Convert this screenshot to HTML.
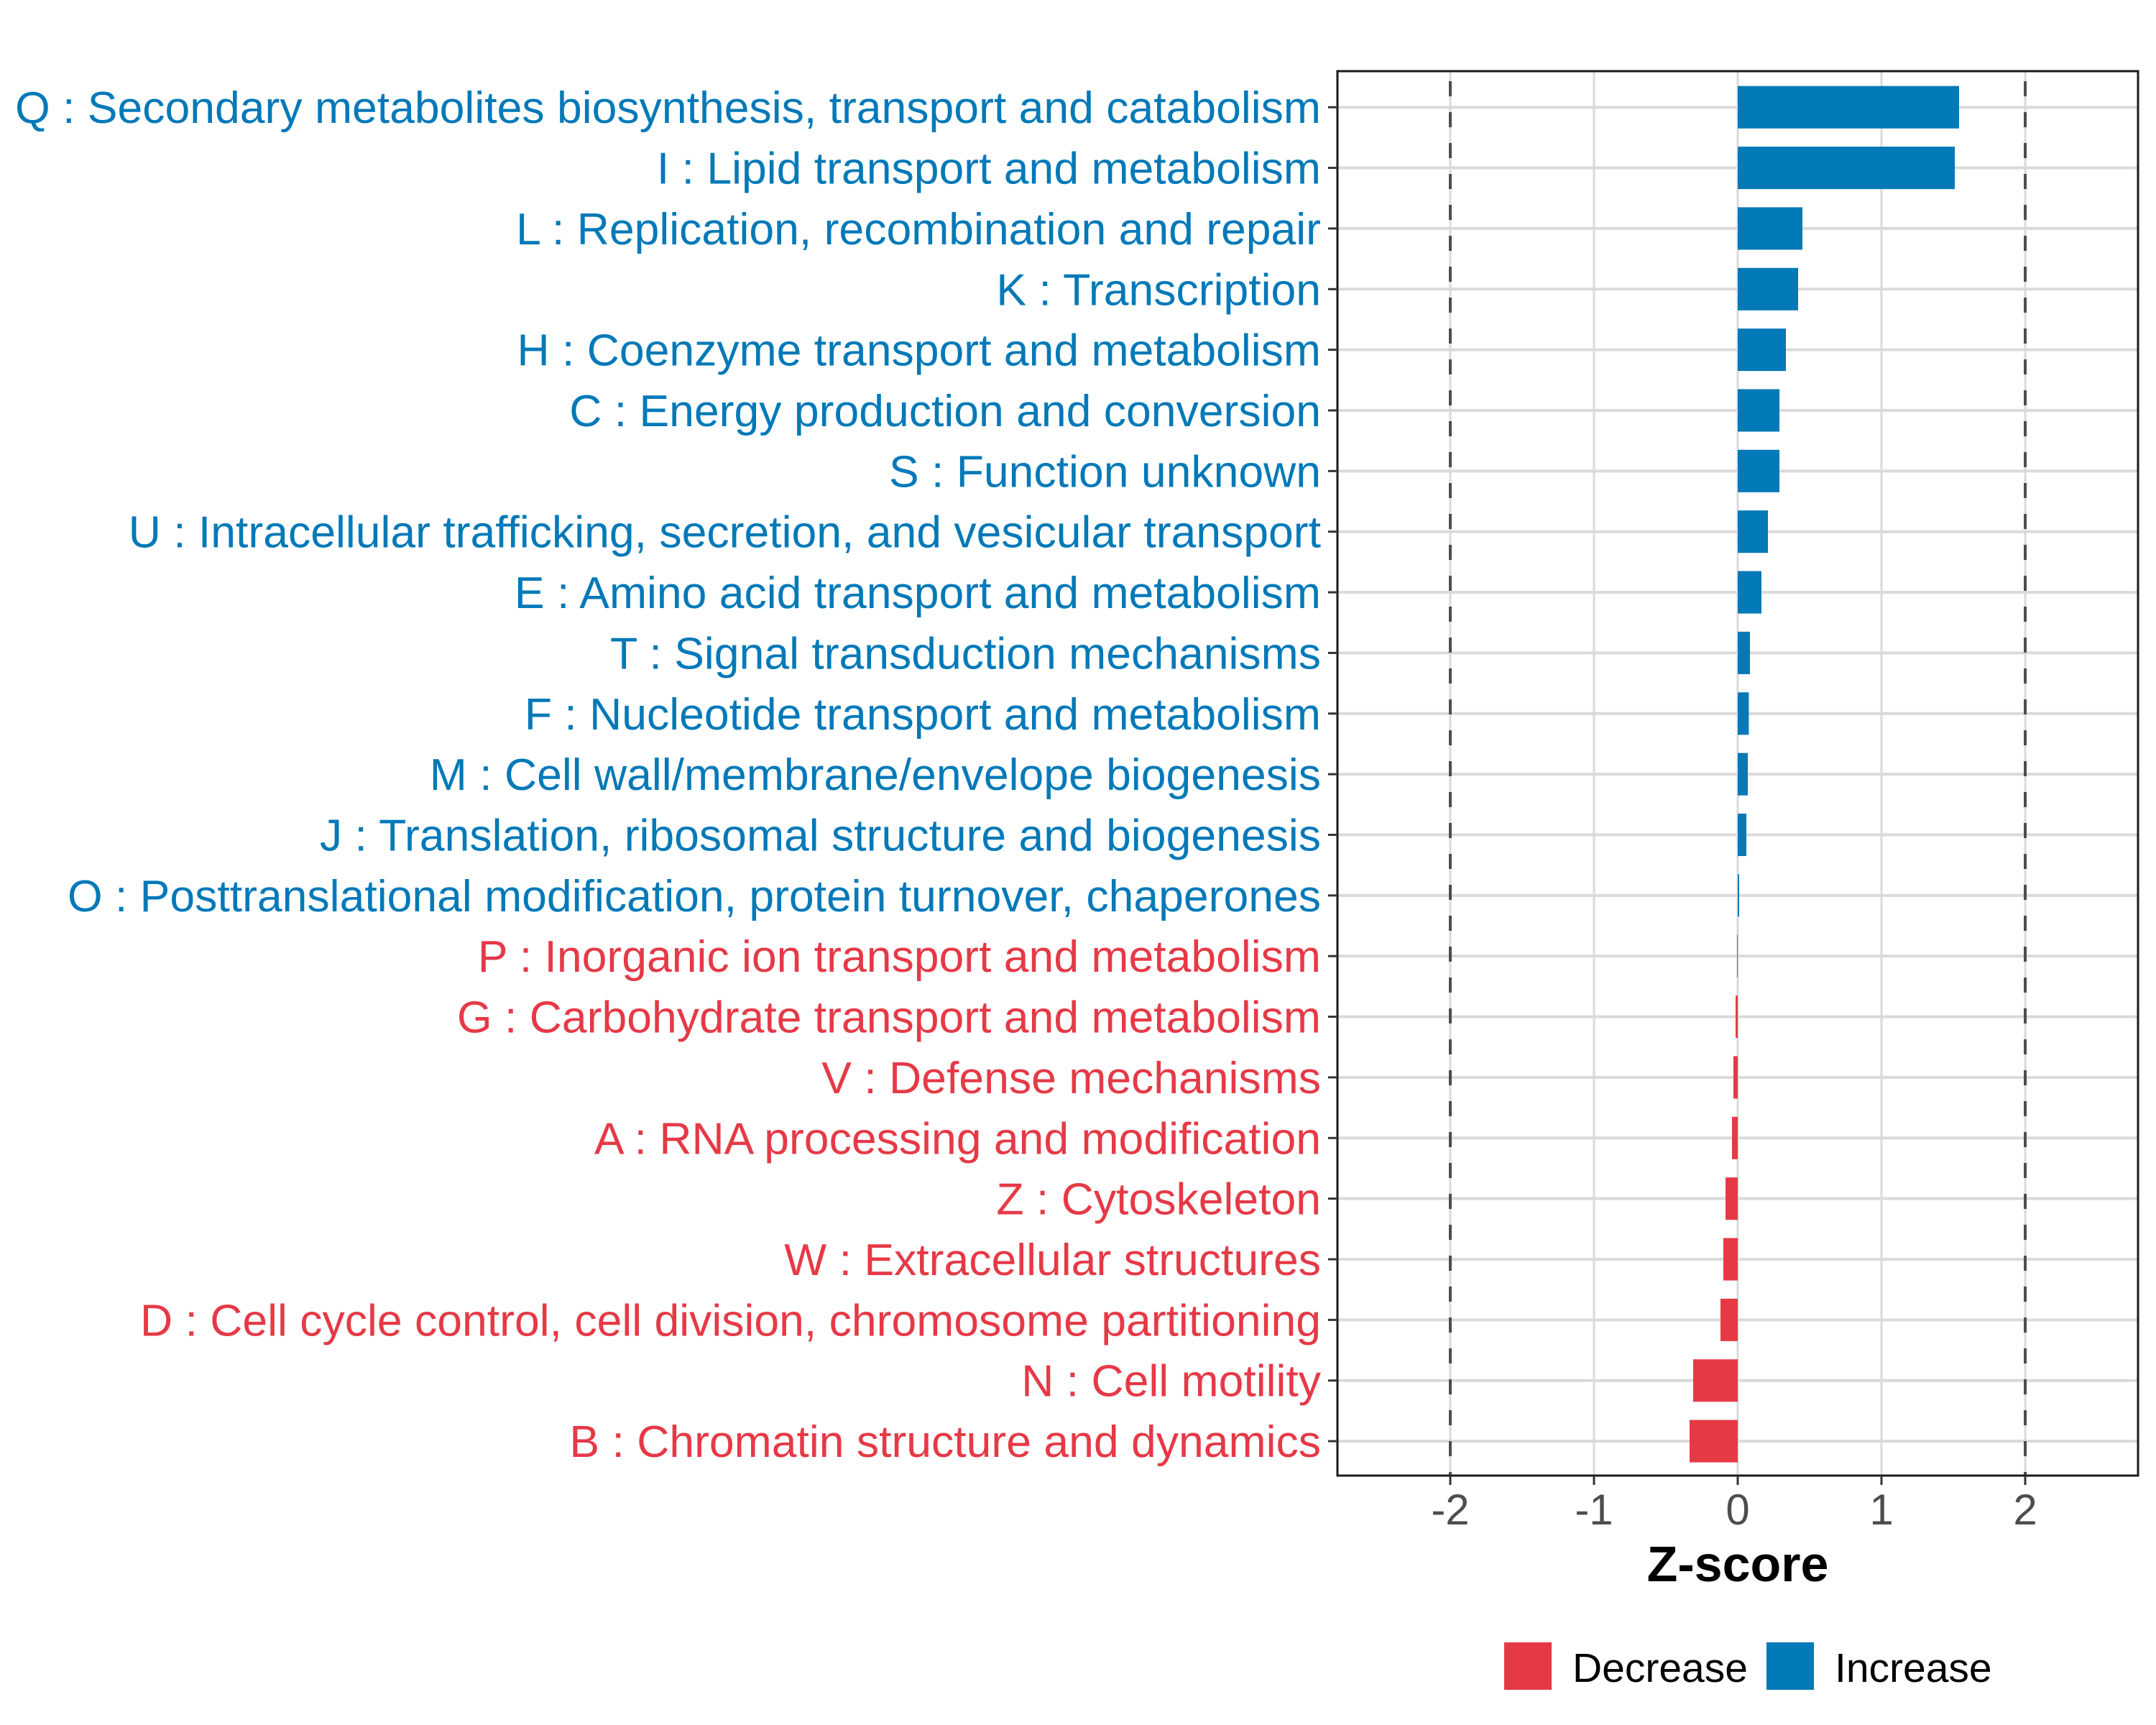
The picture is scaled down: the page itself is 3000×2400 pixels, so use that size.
<!DOCTYPE html>
<html><head><meta charset="utf-8"><style>
html,body{margin:0;padding:0;background:#fff;}
svg{display:block;font-family:"Liberation Sans",Arial,sans-serif;}
</style></head><body>
<svg id="chart" width="3000" height="2400" viewBox="0 0 3000 2400" xmlns="http://www.w3.org/2000/svg">
<rect x="0" y="0" width="3000" height="2400" fill="#fff"/>
<g id="grid"></g>
<g id="bars"></g>
<g id="refs"></g>
<rect x="1861" y="99" width="1114" height="1954" fill="none" stroke="#1a1a1a" stroke-width="3"/>
<g id="ylabels"></g>
<g id="xticks"></g>
<text x="2418" y="2200" text-anchor="middle" font-size="70" font-weight="bold" fill="#000">Z-score</text>
<g>
<rect x="2093" y="2285" width="66" height="66" fill="#E63946"/>
<text x="2188" y="2340" font-size="57" fill="#000">Decrease</text>
<rect x="2458" y="2285" width="66" height="66" fill="#0279B8"/>
<text x="2553" y="2340" font-size="57" fill="#000">Increase</text>
</g>
</svg>
<script>
const categories = ["Q : Secondary metabolites biosynthesis, transport and catabolism","I : Lipid transport and metabolism","L : Replication, recombination and repair","K : Transcription","H : Coenzyme transport and metabolism","C : Energy production and conversion","S : Function unknown","U : Intracellular trafficking, secretion, and vesicular transport","E : Amino acid transport and metabolism","T : Signal transduction mechanisms","F : Nucleotide transport and metabolism","M : Cell wall/membrane/envelope biogenesis","J : Translation, ribosomal structure and biogenesis","O : Posttranslational modification, protein turnover, chaperones","P : Inorganic ion transport and metabolism","G : Carbohydrate transport and metabolism","V : Defense mechanisms","A : RNA processing and modification","Z : Cytoskeleton","W : Extracellular structures","D : Cell cycle control, cell division, chromosome partitioning","N : Cell motility","B : Chromatin structure and dynamics"];
const zscores = [1.54,1.51,0.45,0.42,0.335,0.29,0.29,0.21,0.165,0.085,0.077,0.07,0.06,0.01,-0.005,-0.015,-0.03,-0.04,-0.085,-0.10,-0.12,-0.31,-0.335];
const xTicks = [-2,-1,0,1,2];
const xTickLabels = ["-2","-1","0","1","2"];
const refLines = [-2,2];

const NS="http://www.w3.org/2000/svg";
const X0=1861,X1=2975,XMIN=-2.785,XMAX=2.785;
const Y0=99,Y1=2053;
function xs(v){return X0+(v-XMIN)/(XMAX-XMIN)*(X1-X0);}
const step=(2005.1-149.2)/22;
function ys(i){return 149.2+i*step;}
function mk(tag,attrs,parent){const e=document.createElementNS(NS,tag);for(const k in attrs)e.setAttribute(k,attrs[k]);parent.appendChild(e);return e;}
const grid=document.getElementById('grid'),bars=document.getElementById('bars'),refs=document.getElementById('refs'),yl=document.getElementById('ylabels'),xt=document.getElementById('xticks');
xTicks.forEach((t,i)=>{
  const g=mk('line',{x1:xs(t),x2:xs(t),y1:Y0,y2:Y1,stroke:'#dadada','stroke-width':3},grid);
  
  
  const tk=mk('line',{x1:xs(t),x2:xs(t),y1:Y1,y2:Y1+13,stroke:'#333','stroke-width':3},xt);
  
  
  const tl=mk('text',{x:xs(t),y:2121,'text-anchor':'middle','font-size':60,fill:'#4d4d4d'},xt);
  tl.textContent=xTickLabels[i];
  
  
});
categories.forEach((c,i)=>{
  const y=ys(i);
  const gl=mk('line',{x1:X0,x2:X1,y1:y,y2:y,stroke:'#dadada','stroke-width':4},grid);
  
  
  const v=zscores[i];
  const col=v>=0?'#0279B8':'#E63946';
  const h=step*0.7;
  const a=Math.min(xs(0),xs(v)),w=Math.max(Math.abs(xs(v)-xs(0)),1);
  const r=mk('rect',{x:a,y:y-h/2,width:w,height:h,fill:col},bars);
  
  
  const tk=mk('line',{x1:X0-13,x2:X0,y1:y,y2:y,stroke:'#333','stroke-width':3},yl);
  
  
  const t=mk('text',{x:1838,y:y+22,'text-anchor':'end','font-size':62.5,fill:col},yl);
  t.textContent=c;
  
  
});
refLines.forEach(v=>{
  const l=mk('line',{x1:xs(v),x2:xs(v),y1:Y0,y2:Y1,stroke:'#4d4d4d','stroke-width':4,'stroke-dasharray':'21 22','stroke-dashoffset':'-14'},refs);
  
  
});
</script>
</body></html>
